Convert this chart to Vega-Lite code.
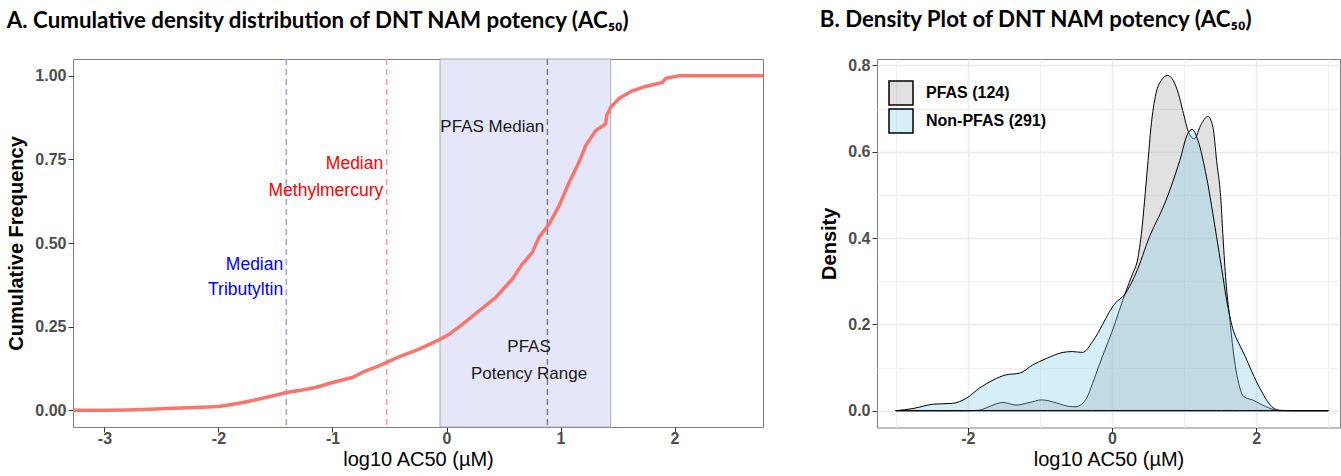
{
  "$schema": "https://vega.github.io/schema/vega-lite/v6.json",
  "padding": {"left": 6, "top": 8, "right": 0, "bottom": 0},
  "spacing": 48,
  "config": {
    "font": "Liberation Sans",
    "view": {"stroke": "#808080", "strokeWidth": 1},
    "axis": {
      "labelFont": "Liberation Sans", "labelFontWeight": "bold", "labelFontSize": 16, "labelColor": "#4d4d4d",
      "tickColor": "#333333", "tickSize": 5, "labelPadding": 2, "domain": false, "grid": false,
      "titleFont": "Liberation Sans", "titleFontSize": 20, "titleColor": "#000000", "titleFontWeight": "normal", "titlePadding": 6
    },
    "axisX": {"labelPadding": -2, "titlePadding": 3},
    "title": {"font": "Lato", "fontSize": 22.3, "fontWeight": "bold", "anchor": "start", "frame": "bounds", "color": "#000000", "offset": 26}
  },
  "hconcat": [
    {
      "title": {"text": "A. Cumulative density distribution of DNT NAM potency (AC₅₀)"},
      "width": 690,
      "height": 368,
      "layer": [
        {
          "data": {"values": [{"lo": -0.057, "hi": 1.44}]},
          "mark": {"type": "rect", "fill": "#E6E6FA", "stroke": "#A8A8A8", "strokeWidth": 1},
          "encoding": {
            "x": {"field": "lo", "type": "quantitative", "scale": {"domain": [-3.276, 2.776], "nice": false, "zero": false},
                  "axis": {"values": [-3, -2, -1, 0, 1, 2], "labelExpr": "toString(datum.value)"}, "title": "log10 AC50 (µM)"},
            "x2": {"field": "hi"}
          }
        },
        {
          "data": {"values": [{"v": -1.405}]},
          "mark": {"type": "rule", "color": "#9D9DFF", "strokeDash": [6, 4], "strokeWidth": 1.5},
          "encoding": {"x": {"field": "v", "type": "quantitative"}}
        },
        {
          "data": {"values": [{"v": -0.525}]},
          "mark": {"type": "rule", "color": "#FF9D9D", "strokeDash": [6, 4], "strokeWidth": 1.5},
          "encoding": {"x": {"field": "v", "type": "quantitative"}}
        },
        {
          "data": {"values": [{"v": 0.885}]},
          "mark": {"type": "rule", "color": "#808080", "strokeDash": [6, 4], "strokeWidth": 1.5},
          "encoding": {"x": {"field": "v", "type": "quantitative"}}
        },
        {
          "data": {"values": [
            {"x": -3.276, "y": 0.0}, {"x": -3.0, "y": 0.0}, {"x": -2.8, "y": 0.001}, {"x": -2.6, "y": 0.003},
            {"x": -2.463, "y": 0.005}, {"x": -2.2, "y": 0.008}, {"x": -1.995, "y": 0.011}, {"x": -1.82, "y": 0.021},
            {"x": -1.7, "y": 0.029}, {"x": -1.586, "y": 0.038}, {"x": -1.5, "y": 0.045}, {"x": -1.405, "y": 0.053},
            {"x": -1.28, "y": 0.06}, {"x": -1.148, "y": 0.068}, {"x": -1.0, "y": 0.083}, {"x": -0.826, "y": 0.098},
            {"x": -0.709, "y": 0.118}, {"x": -0.592, "y": 0.133}, {"x": -0.525, "y": 0.143}, {"x": -0.417, "y": 0.16},
            {"x": -0.241, "y": 0.183}, {"x": -0.057, "y": 0.212}, {"x": 0.022, "y": 0.227}, {"x": 0.139, "y": 0.257},
            {"x": 0.285, "y": 0.297}, {"x": 0.431, "y": 0.337}, {"x": 0.577, "y": 0.392}, {"x": 0.665, "y": 0.437},
            {"x": 0.753, "y": 0.472}, {"x": 0.811, "y": 0.517}, {"x": 0.899, "y": 0.556}, {"x": 0.987, "y": 0.611},
            {"x": 1.075, "y": 0.681}, {"x": 1.162, "y": 0.741}, {"x": 1.221, "y": 0.791}, {"x": 1.309, "y": 0.836},
            {"x": 1.396, "y": 0.856}, {"x": 1.405, "y": 0.881}, {"x": 1.44, "y": 0.906}, {"x": 1.513, "y": 0.932},
            {"x": 1.63, "y": 0.955}, {"x": 1.747, "y": 0.968}, {"x": 1.893, "y": 0.98}, {"x": 1.923, "y": 0.992},
            {"x": 2.04, "y": 1.0}, {"x": 2.776, "y": 1.0}
          ]},
          "mark": {"type": "line", "color": "#F8766D", "strokeWidth": 3.5},
          "encoding": {
            "x": {"field": "x", "type": "quantitative"},
            "y": {"field": "y", "type": "quantitative", "scale": {"domain": [-0.05, 1.05], "nice": false, "zero": false},
                  "axis": {"values": [0, 0.25, 0.5, 0.75, 1], "format": ".2f", "titleFontWeight": "bold", "titlePadding": 8},
                  "title": "Cumulative Frequency"}
          }
        },
        {
          "data": {"values": [{"x": -0.555, "y": 0.736, "t": "Median"}, {"x": -0.555, "y": 0.656, "t": "Methylmercury"}]},
          "mark": {"type": "text", "align": "right", "baseline": "middle", "color": "#FF0000", "fontSize": 17.5, "font": "Liberation Sans"},
          "encoding": {"x": {"field": "x", "type": "quantitative"}, "y": {"field": "y", "type": "quantitative"}, "text": {"field": "t"}}
        },
        {
          "data": {"values": [{"x": -1.432, "y": 0.434, "t": "Median"}, {"x": -1.432, "y": 0.36, "t": "Tributyltin"}]},
          "mark": {"type": "text", "align": "right", "baseline": "middle", "color": "#0000FF", "fontSize": 17.5, "font": "Liberation Sans"},
          "encoding": {"x": {"field": "x", "type": "quantitative"}, "y": {"field": "y", "type": "quantitative"}, "text": {"field": "t"}}
        },
        {
          "data": {"values": [{"x": 0.858, "y": 0.847, "t": "PFAS Median"}]},
          "mark": {"type": "text", "align": "right", "baseline": "middle", "color": "#1a1a1a", "fontSize": 17, "font": "Liberation Sans"},
          "encoding": {"x": {"field": "x", "type": "quantitative"}, "y": {"field": "y", "type": "quantitative"}, "text": {"field": "t"}}
        },
        {
          "data": {"values": [{"x": 0.724, "y": 0.188, "t": "PFAS"}, {"x": 0.724, "y": 0.108, "t": "Potency Range"}]},
          "mark": {"type": "text", "align": "center", "baseline": "middle", "color": "#1a1a1a", "fontSize": 17, "font": "Liberation Sans"},
          "encoding": {"x": {"field": "x", "type": "quantitative"}, "y": {"field": "y", "type": "quantitative"}, "text": {"field": "t"}}
        }
      ]
    },
    {
      "title": {"text": "B. Density Plot of DNT NAM potency (AC₅₀)"},
      "width": 463,
      "height": 368.5,
      "encoding": {
        "x": {"field": "x", "type": "quantitative", "scale": {"domain": [-3.26, 3.162], "nice": false, "zero": false},
              "axis": {"values": [-3, -2, -1, 0, 1, 2, 3], "grid": true, "gridColor": "#EBEBEB",
                       "gridWidth": {"condition": {"test": "datum.value % 2 != 0", "value": 0.8}, "value": 1.6},
                       "tickOpacity": {"condition": {"test": "datum.value % 2 != 0", "value": 0}, "value": 1},
                       "labelExpr": "datum.value % 2 == 0 ? toString(datum.value) : ''"},
              "title": "log10 AC50 (µM)"},
        "y": {"field": "d", "type": "quantitative", "scale": {"domain": [-0.039, 0.815], "nice": false, "zero": false},
              "axis": {"values": [0, 0.1, 0.2, 0.3, 0.4, 0.5, 0.6, 0.7, 0.8], "grid": true, "gridColor": "#EBEBEB",
                       "gridWidth": {"condition": {"test": "round(datum.value*10) % 2 == 1", "value": 0.8}, "value": 1.6},
                       "tickOpacity": {"condition": {"test": "round(datum.value*10) % 2 == 1", "value": 0}, "value": 1},
                       "labelExpr": "round(datum.value*10) % 2 == 0 ? format(datum.value, '.1f') : ''",
                       "titleFontWeight": "bold", "titlePadding": 8},
              "title": "Density"},
        "color": {"field": "g", "type": "nominal",
                  "scale": {"domain": ["PFAS (124)", "Non-PFAS (291)"], "range": ["#A9A9A9", "#87CEEB"]},
                  "legend": {"title": null, "orient": "none", "legendX": 815, "legendY": 21, "padding": 0,
                             "symbolType": "square", "symbolSize": 576, "symbolStrokeColor": "#000000", "symbolStrokeWidth": 1.5,
                             "labelFontSize": 16, "labelFontWeight": "bold", "labelFont": "Liberation Sans", "labelColor": "#000000",
                             "labelOffset": 12, "rowPadding": -2.5,
                             "encode": {"symbols": {"update": {"fillOpacity": {"value": 0.35}, "stroke": {"value": "#000000"}, "strokeOpacity": {"value": 1}}}}}}
      },
      "layer": [
        {
          "data": {"values": [
            {"g": "PFAS (124)", "x": -3.0, "d": 0.0}, {"g": "PFAS (124)", "x": -2.0, "d": 0.0}, {"g": "PFAS (124)", "x": -1.85, "d": 0.001},
            {"g": "PFAS (124)", "x": -1.75, "d": 0.006}, {"g": "PFAS (124)", "x": -1.62, "d": 0.015}, {"g": "PFAS (124)", "x": -1.51, "d": 0.019},
            {"g": "PFAS (124)", "x": -1.33, "d": 0.013}, {"g": "PFAS (124)", "x": -1.14, "d": 0.019}, {"g": "PFAS (124)", "x": -0.98, "d": 0.025},
            {"g": "PFAS (124)", "x": -0.77, "d": 0.018}, {"g": "PFAS (124)", "x": -0.6, "d": 0.01}, {"g": "PFAS (124)", "x": -0.5, "d": 0.009},
            {"g": "PFAS (124)", "x": -0.42, "d": 0.015}, {"g": "PFAS (124)", "x": -0.35, "d": 0.03}, {"g": "PFAS (124)", "x": -0.27, "d": 0.063},
            {"g": "PFAS (124)", "x": -0.18, "d": 0.105}, {"g": "PFAS (124)", "x": -0.1, "d": 0.14}, {"g": "PFAS (124)", "x": 0.0, "d": 0.183},
            {"g": "PFAS (124)", "x": 0.1, "d": 0.232}, {"g": "PFAS (124)", "x": 0.2, "d": 0.28}, {"g": "PFAS (124)", "x": 0.28, "d": 0.315},
            {"g": "PFAS (124)", "x": 0.36, "d": 0.355}, {"g": "PFAS (124)", "x": 0.42, "d": 0.43}, {"g": "PFAS (124)", "x": 0.46, "d": 0.503},
            {"g": "PFAS (124)", "x": 0.5, "d": 0.58}, {"g": "PFAS (124)", "x": 0.54, "d": 0.657}, {"g": "PFAS (124)", "x": 0.61, "d": 0.735},
            {"g": "PFAS (124)", "x": 0.68, "d": 0.765}, {"g": "PFAS (124)", "x": 0.77, "d": 0.777}, {"g": "PFAS (124)", "x": 0.85, "d": 0.765},
            {"g": "PFAS (124)", "x": 0.92, "d": 0.735}, {"g": "PFAS (124)", "x": 0.98, "d": 0.696}, {"g": "PFAS (124)", "x": 1.07, "d": 0.642},
            {"g": "PFAS (124)", "x": 1.14, "d": 0.63}, {"g": "PFAS (124)", "x": 1.24, "d": 0.665}, {"g": "PFAS (124)", "x": 1.33, "d": 0.682},
            {"g": "PFAS (124)", "x": 1.4, "d": 0.657}, {"g": "PFAS (124)", "x": 1.45, "d": 0.58}, {"g": "PFAS (124)", "x": 1.51, "d": 0.488},
            {"g": "PFAS (124)", "x": 1.54, "d": 0.4}, {"g": "PFAS (124)", "x": 1.58, "d": 0.3}, {"g": "PFAS (124)", "x": 1.63, "d": 0.218},
            {"g": "PFAS (124)", "x": 1.68, "d": 0.14}, {"g": "PFAS (124)", "x": 1.72, "d": 0.094}, {"g": "PFAS (124)", "x": 1.77, "d": 0.055},
            {"g": "PFAS (124)", "x": 1.81, "d": 0.036}, {"g": "PFAS (124)", "x": 1.88, "d": 0.028}, {"g": "PFAS (124)", "x": 1.95, "d": 0.025},
            {"g": "PFAS (124)", "x": 2.05, "d": 0.016}, {"g": "PFAS (124)", "x": 2.14, "d": 0.009}, {"g": "PFAS (124)", "x": 2.25, "d": 0.002},
            {"g": "PFAS (124)", "x": 2.32, "d": 0.0}, {"g": "PFAS (124)", "x": 3.0, "d": 0.0}
          ]},
          "mark": {"type": "area", "fillOpacity": 0.35, "stroke": "#000000", "strokeWidth": 1, "interpolate": "monotone"}
        },
        {
          "data": {"values": [
            {"g": "Non-PFAS (291)", "x": -3.0, "d": 0.0}, {"g": "Non-PFAS (291)", "x": -2.76, "d": 0.005}, {"g": "Non-PFAS (291)", "x": -2.48, "d": 0.015},
            {"g": "Non-PFAS (291)", "x": -2.21, "d": 0.017}, {"g": "Non-PFAS (291)", "x": -2.02, "d": 0.029}, {"g": "Non-PFAS (291)", "x": -1.84, "d": 0.052},
            {"g": "Non-PFAS (291)", "x": -1.65, "d": 0.071}, {"g": "Non-PFAS (291)", "x": -1.47, "d": 0.083}, {"g": "Non-PFAS (291)", "x": -1.28, "d": 0.087},
            {"g": "Non-PFAS (291)", "x": -1.1, "d": 0.106}, {"g": "Non-PFAS (291)", "x": -0.91, "d": 0.121}, {"g": "Non-PFAS (291)", "x": -0.68, "d": 0.135},
            {"g": "Non-PFAS (291)", "x": -0.55, "d": 0.137}, {"g": "Non-PFAS (291)", "x": -0.41, "d": 0.135}, {"g": "Non-PFAS (291)", "x": -0.27, "d": 0.16},
            {"g": "Non-PFAS (291)", "x": -0.13, "d": 0.2}, {"g": "Non-PFAS (291)", "x": -0.04, "d": 0.228}, {"g": "Non-PFAS (291)", "x": 0.05, "d": 0.25},
            {"g": "Non-PFAS (291)", "x": 0.17, "d": 0.268}, {"g": "Non-PFAS (291)", "x": 0.33, "d": 0.318}, {"g": "Non-PFAS (291)", "x": 0.52, "d": 0.403},
            {"g": "Non-PFAS (291)", "x": 0.75, "d": 0.488}, {"g": "Non-PFAS (291)", "x": 0.94, "d": 0.58}, {"g": "Non-PFAS (291)", "x": 1.05, "d": 0.642},
            {"g": "Non-PFAS (291)", "x": 1.11, "d": 0.652}, {"g": "Non-PFAS (291)", "x": 1.19, "d": 0.627}, {"g": "Non-PFAS (291)", "x": 1.31, "d": 0.542},
            {"g": "Non-PFAS (291)", "x": 1.45, "d": 0.403}, {"g": "Non-PFAS (291)", "x": 1.52, "d": 0.33}, {"g": "Non-PFAS (291)", "x": 1.59, "d": 0.256},
            {"g": "Non-PFAS (291)", "x": 1.675, "d": 0.19}, {"g": "Non-PFAS (291)", "x": 1.77, "d": 0.152}, {"g": "Non-PFAS (291)", "x": 1.85, "d": 0.125},
            {"g": "Non-PFAS (291)", "x": 1.93, "d": 0.094}, {"g": "Non-PFAS (291)", "x": 2.01, "d": 0.065}, {"g": "Non-PFAS (291)", "x": 2.09, "d": 0.04},
            {"g": "Non-PFAS (291)", "x": 2.17, "d": 0.018}, {"g": "Non-PFAS (291)", "x": 2.25, "d": 0.005}, {"g": "Non-PFAS (291)", "x": 2.32, "d": 0.001},
            {"g": "Non-PFAS (291)", "x": 2.5, "d": 0.0}, {"g": "Non-PFAS (291)", "x": 3.0, "d": 0.0}
          ]},
          "mark": {"type": "area", "fillOpacity": 0.35, "stroke": "#000000", "strokeWidth": 1, "interpolate": "monotone"}
        }
      ]
    }
  ]
}
